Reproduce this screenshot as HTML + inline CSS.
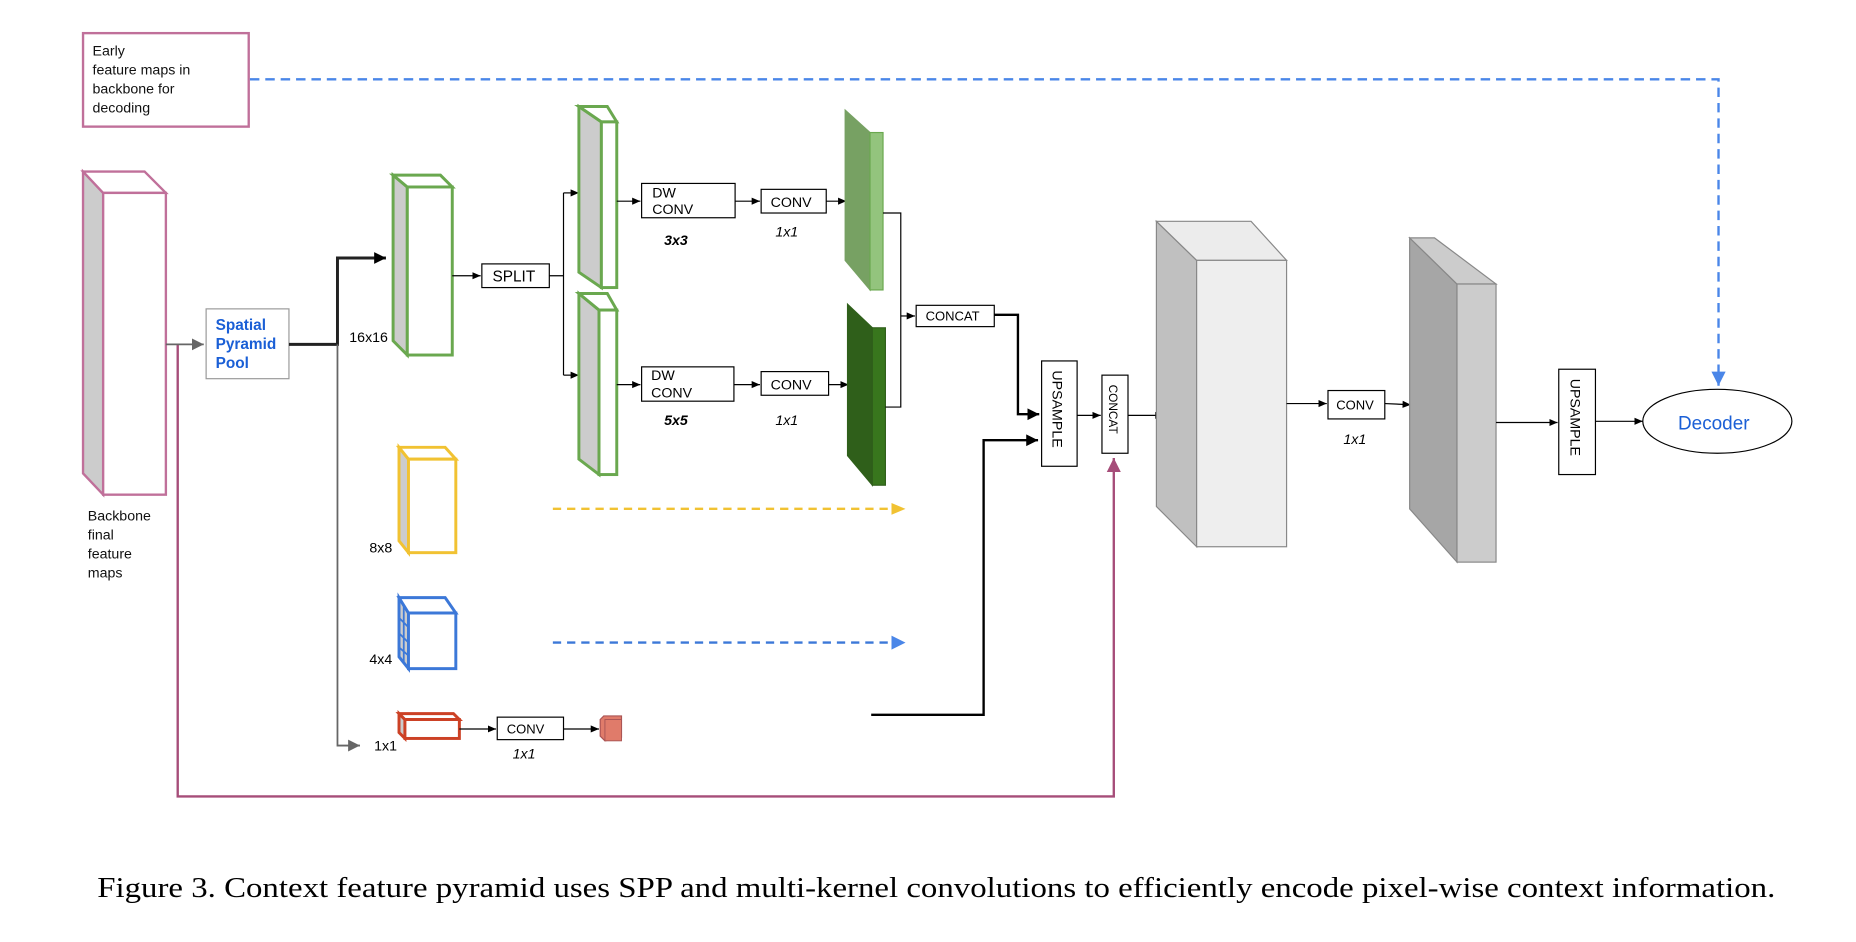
<!DOCTYPE html>
<html><head><meta charset="utf-8"><style>
html,body{margin:0;padding:0;background:#fff;}
svg{display:block;}
text{font-family:"Liberation Sans",Arial,sans-serif;}
</style></head><body>
<svg width="1856" height="942" viewBox="0 0 1568 796" xmlns="http://www.w3.org/2000/svg">
<defs>
<marker id="ab" markerWidth="8" markerHeight="8" refX="7" refY="4" orient="auto" markerUnits="userSpaceOnUse"><path d="M0,1 L7,4 L0,7z" fill="#000"/></marker>
<marker id="abB" markerWidth="12" markerHeight="12" refX="10" refY="6" orient="auto" markerUnits="userSpaceOnUse"><path d="M0,1 L10,6 L0,11z" fill="#000"/></marker>
<marker id="ag" markerWidth="12" markerHeight="12" refX="10" refY="6" orient="auto" markerUnits="userSpaceOnUse"><path d="M0,1 L10,6 L0,11z" fill="#666"/></marker>
<marker id="ap" markerWidth="14" markerHeight="14" refX="12" refY="7" orient="auto" markerUnits="userSpaceOnUse"><path d="M0,1 L12,7 L0,13z" fill="#a64d79"/></marker>
<marker id="abl" markerWidth="14" markerHeight="14" refX="12" refY="7" orient="auto" markerUnits="userSpaceOnUse"><path d="M0,1 L12,7 L0,13z" fill="#4a86e8"/></marker>
<marker id="ay" markerWidth="14" markerHeight="14" refX="12" refY="7" orient="auto" markerUnits="userSpaceOnUse"><path d="M0,2 L12,7 L0,12z" fill="#f1c232"/></marker>
</defs>

<rect x="70" y="28" width="140" height="79" fill="#fff" stroke="#c0709a" stroke-width="2"/>
<g font-size="12" fill="#111">
<text x="78" y="47">Early</text><text x="78" y="63">feature maps in</text><text x="78" y="79">backbone for</text><text x="78" y="95">decoding</text>
</g>
<path d="M211,67 H1452 V326" fill="none" stroke="#4a86e8" stroke-width="2" stroke-dasharray="8,5" marker-end="url(#abl)"/>

<path d="M150,291 V673 H941 V387" fill="none" stroke="#a64d79" stroke-width="2" marker-end="url(#ap)"/>

<polygon points="70,145 87,163 87,418 70,400" fill="#ccc" stroke="#c0709a" stroke-width="2"/>
<polygon points="70,145 122,145 140,163 87,163" fill="#fff" stroke="#c0709a" stroke-width="2"/>
<rect x="87" y="163" width="53" height="255" fill="#fff" stroke="#c0709a" stroke-width="2"/>
<g font-size="12" fill="#111"><text x="74" y="440">Backbone</text><text x="74" y="456">final</text><text x="74" y="472">feature</text><text x="74" y="488">maps</text></g>
<line x1="140" y1="291" x2="172" y2="291" stroke="#666" stroke-width="1.5" marker-end="url(#ag)"/>

<rect x="174" y="261" width="70" height="59" fill="#fff" stroke="#999" stroke-width="1"/>
<g font-size="13" font-weight="bold" fill="#1a5fd6"><text x="182" y="279">Spatial</text><text x="182" y="295">Pyramid</text><text x="182" y="311">Pool</text></g>
<path d="M244,291 H285 V218 H326" fill="none" stroke="#222" stroke-width="2.5" marker-end="url(#abB)"/>
<path d="M285,291 V630 H304" fill="none" stroke="#666" stroke-width="1.5" marker-end="url(#ag)"/>

<polygon points="332,148 344,158 344,300 332,288" fill="#ccc" stroke="#6aa84f" stroke-width="2.5"/>
<polygon points="332,148 372,148 382,158 344,158" fill="#fff" stroke="#6aa84f" stroke-width="2.5"/>
<rect x="344" y="158" width="38" height="142" fill="#fff" stroke="#6aa84f" stroke-width="2.5"/>
<text x="295" y="289" font-size="12">16x16</text>
<line x1="382" y1="233" x2="406" y2="233" stroke="#000" marker-end="url(#ab)"/>
<rect x="407" y="223" width="57" height="20" fill="#fff" stroke="#000"/>
<text x="416" y="238" font-size="13">SPLIT</text>
<path d="M464,233 H476 M476,163 V317" stroke="#000" fill="none"/>
<line x1="476" y1="163" x2="489" y2="163" stroke="#000" marker-end="url(#ab)"/>
<line x1="476" y1="317" x2="489" y2="317" stroke="#000" marker-end="url(#ab)"/>

<polygon points="489,90 508,103 508,243 489,230" fill="#ccc" stroke="#6aa84f" stroke-width="2.5"/>
<polygon points="489,90 513,90 521,103 508,103" fill="#fff" stroke="#6aa84f" stroke-width="2.5"/>
<rect x="508" y="103" width="13" height="140" fill="#fff" stroke="#6aa84f" stroke-width="2.5"/>
<polygon points="489,248 506,262 506,401 489,388" fill="#ccc" stroke="#6aa84f" stroke-width="2.5"/>
<polygon points="489,248 513,248 521,262 506,262" fill="#fff" stroke="#6aa84f" stroke-width="2.5"/>
<rect x="506" y="262" width="15" height="139" fill="#fff" stroke="#6aa84f" stroke-width="2.5"/>

<line x1="521" y1="170" x2="541" y2="170" stroke="#000" marker-end="url(#ab)"/>
<rect x="542" y="155" width="79" height="29" fill="#fff" stroke="#000"/>
<text x="551" y="167" font-size="12">DW</text><text x="551" y="181" font-size="12">CONV</text>
<text x="561" y="207" font-size="12" font-weight="bold" font-style="italic">3x3</text>
<line x1="621" y1="170" x2="642" y2="170" stroke="#000" marker-end="url(#ab)"/>
<rect x="643" y="160" width="55" height="20" fill="#fff" stroke="#000"/>
<text x="651" y="175" font-size="12">CONV</text>
<text x="655" y="200" font-size="12" font-style="italic">1x1</text>
<line x1="698" y1="170" x2="715" y2="170" stroke="#000" marker-end="url(#ab)"/>
<polygon points="714,93 735,112 735,245 714,220" fill="#77a163" stroke="#77a163"/>
<rect x="735" y="112" width="11" height="133" fill="#93c47d" stroke="#6aa84f"/>

<line x1="521" y1="325" x2="541" y2="325" stroke="#000" marker-end="url(#ab)"/>
<rect x="542" y="310" width="78" height="29" fill="#fff" stroke="#000"/>
<text x="550" y="321" font-size="12">DW</text><text x="550" y="336" font-size="12">CONV</text>
<text x="561" y="359" font-size="12" font-weight="bold" font-style="italic">5x5</text>
<line x1="620" y1="325" x2="642" y2="325" stroke="#000" marker-end="url(#ab)"/>
<rect x="643" y="314" width="57" height="20" fill="#fff" stroke="#000"/>
<text x="651" y="329" font-size="12">CONV</text>
<text x="655" y="359" font-size="12" font-style="italic">1x1</text>
<line x1="700" y1="325" x2="717" y2="325" stroke="#000" marker-end="url(#ab)"/>
<polygon points="716,257 737,277 737,410 716,385" fill="#2f5f1a" stroke="#2f5f1a"/>
<rect x="737" y="277" width="11" height="133" fill="#38761d" stroke="#2f5f1a"/>

<path d="M746,180 H761 V344 H748" fill="none" stroke="#000"/>
<line x1="761" y1="267" x2="773" y2="267" stroke="#000" marker-end="url(#ab)"/>
<rect x="774" y="258" width="66" height="18" fill="#fff" stroke="#000"/>
<text x="782" y="271" font-size="11">CONCAT</text>
<path d="M840,266 H860 V350 H878" fill="none" stroke="#000" stroke-width="2" marker-end="url(#abB)"/>
<path d="M736,604 H831 V372 H877" fill="none" stroke="#000" stroke-width="2" marker-end="url(#abB)"/>

<rect x="880" y="305" width="30" height="89" fill="#fff" stroke="#000"/>
<text transform="translate(889,313) rotate(90)" font-size="12">UPSAMPLE</text>
<line x1="910" y1="351" x2="930" y2="351" stroke="#000" marker-end="url(#ab)"/>
<rect x="931" y="317" width="22" height="66" fill="#fff" stroke="#000"/>
<text transform="translate(937,325) rotate(90)" font-size="10">CONCAT</text>
<line x1="953" y1="351" x2="983" y2="351" stroke="#000" marker-end="url(#ab)"/>

<polygon points="977,187 1011,220 1011,462 977,428" fill="#c0c0c0" stroke="#888"/>
<polygon points="977,187 1057,187 1087,220 1011,220" fill="#ececec" stroke="#888"/>
<rect x="1011" y="220" width="76" height="242" fill="#eeeeee" stroke="#888"/>
<line x1="1087" y1="341" x2="1121" y2="341" stroke="#000" marker-end="url(#ab)"/>
<rect x="1122" y="330" width="48" height="24" fill="#fff" stroke="#000"/>
<text x="1129" y="346" font-size="11">CONV</text>
<text x="1135" y="375" font-size="12" font-style="italic">1x1</text>
<line x1="1170" y1="341" x2="1192" y2="342" stroke="#000" marker-end="url(#ab)"/>

<polygon points="1191,201 1231,240 1231,475 1191,430" fill="#a6a6a6" stroke="#888"/>
<polygon points="1191,201 1212,201 1264,240 1231,240" fill="#cccccc" stroke="#888"/>
<rect x="1231" y="240" width="33" height="235" fill="#cccccc" stroke="#888"/>
<line x1="1264" y1="357" x2="1316" y2="357" stroke="#000" marker-end="url(#ab)"/>
<rect x="1317" y="312" width="31" height="89" fill="#fff" stroke="#000"/>
<text transform="translate(1327,320) rotate(90)" font-size="12">UPSAMPLE</text>
<line x1="1348" y1="356" x2="1388" y2="356" stroke="#000" marker-end="url(#ab)"/>
<ellipse cx="1451" cy="356" rx="63" ry="27" fill="#fff" stroke="#000"/>
<text x="1448" y="363" font-size="16" fill="#1a5fd6" text-anchor="middle">Decoder</text>

<polygon points="337,378 345,388 345,467 337,457" fill="#ccc" stroke="#f1c232" stroke-width="2.5"/>
<polygon points="337,378 376,378 385,388 345,388" fill="#fff" stroke="#f1c232" stroke-width="2.5"/>
<rect x="345" y="388" width="40" height="79" fill="#fff" stroke="#f1c232" stroke-width="2.5"/>
<text x="312" y="467" font-size="12">8x8</text>
<line x1="467" y1="430" x2="765" y2="430" stroke="#f1c232" stroke-width="2" stroke-dasharray="7,5" marker-end="url(#ay)"/>

<polygon points="337,505 345,518 345,565 337,555" fill="#ccc" stroke="#3c78d8" stroke-width="2.5"/>
<path d="M341,510 V560 M337,522 L345,530 M337,535 L345,543 M337,547 L345,554" stroke="#3c78d8" stroke-width="1.5"/>
<polygon points="337,505 376,505 385,518 345,518" fill="#fff" stroke="#3c78d8" stroke-width="2.5"/>
<rect x="345" y="518" width="40" height="47" fill="#fff" stroke="#3c78d8" stroke-width="2.5"/>
<text x="312" y="561" font-size="12">4x4</text>
<line x1="467" y1="543" x2="765" y2="543" stroke="#3c78d8" stroke-width="2" stroke-dasharray="7,5" marker-end="url(#abl)"/>

<polygon points="337,603 342,608 342,624 337,619" fill="#ccc" stroke="#cc4125" stroke-width="2.5"/>
<polygon points="337,603 383,603 388,608 342,608" fill="#fff" stroke="#cc4125" stroke-width="2.5"/>
<rect x="342" y="608" width="46" height="16" fill="#fff" stroke="#cc4125" stroke-width="2.5"/>
<text x="316" y="634" font-size="12">1x1</text>
<line x1="388" y1="616" x2="419" y2="616" stroke="#000" marker-end="url(#ab)"/>
<rect x="420" y="606" width="56" height="19" fill="#fff" stroke="#000"/>
<text x="428" y="620" font-size="11">CONV</text>
<text x="433" y="641" font-size="12" font-style="italic">1x1</text>
<line x1="476" y1="616" x2="506" y2="616" stroke="#000" marker-end="url(#ab)"/>
<polygon points="507,608 510,605 525,605 525,623 511,626 507,622" fill="#e07b6a" stroke="#a55"/>
<rect x="511" y="608" width="14" height="18" fill="#e07b6a" stroke="#a55" stroke-width="0.8"/>

<text x="82" y="758" style="font-family:'Liberation Serif',serif;font-size:24px" textLength="1418" lengthAdjust="spacingAndGlyphs" fill="#000">Figure 3. Context feature pyramid uses SPP and multi-kernel convolutions to efficiently encode pixel-wise context information.</text>
</svg>
</body></html>
